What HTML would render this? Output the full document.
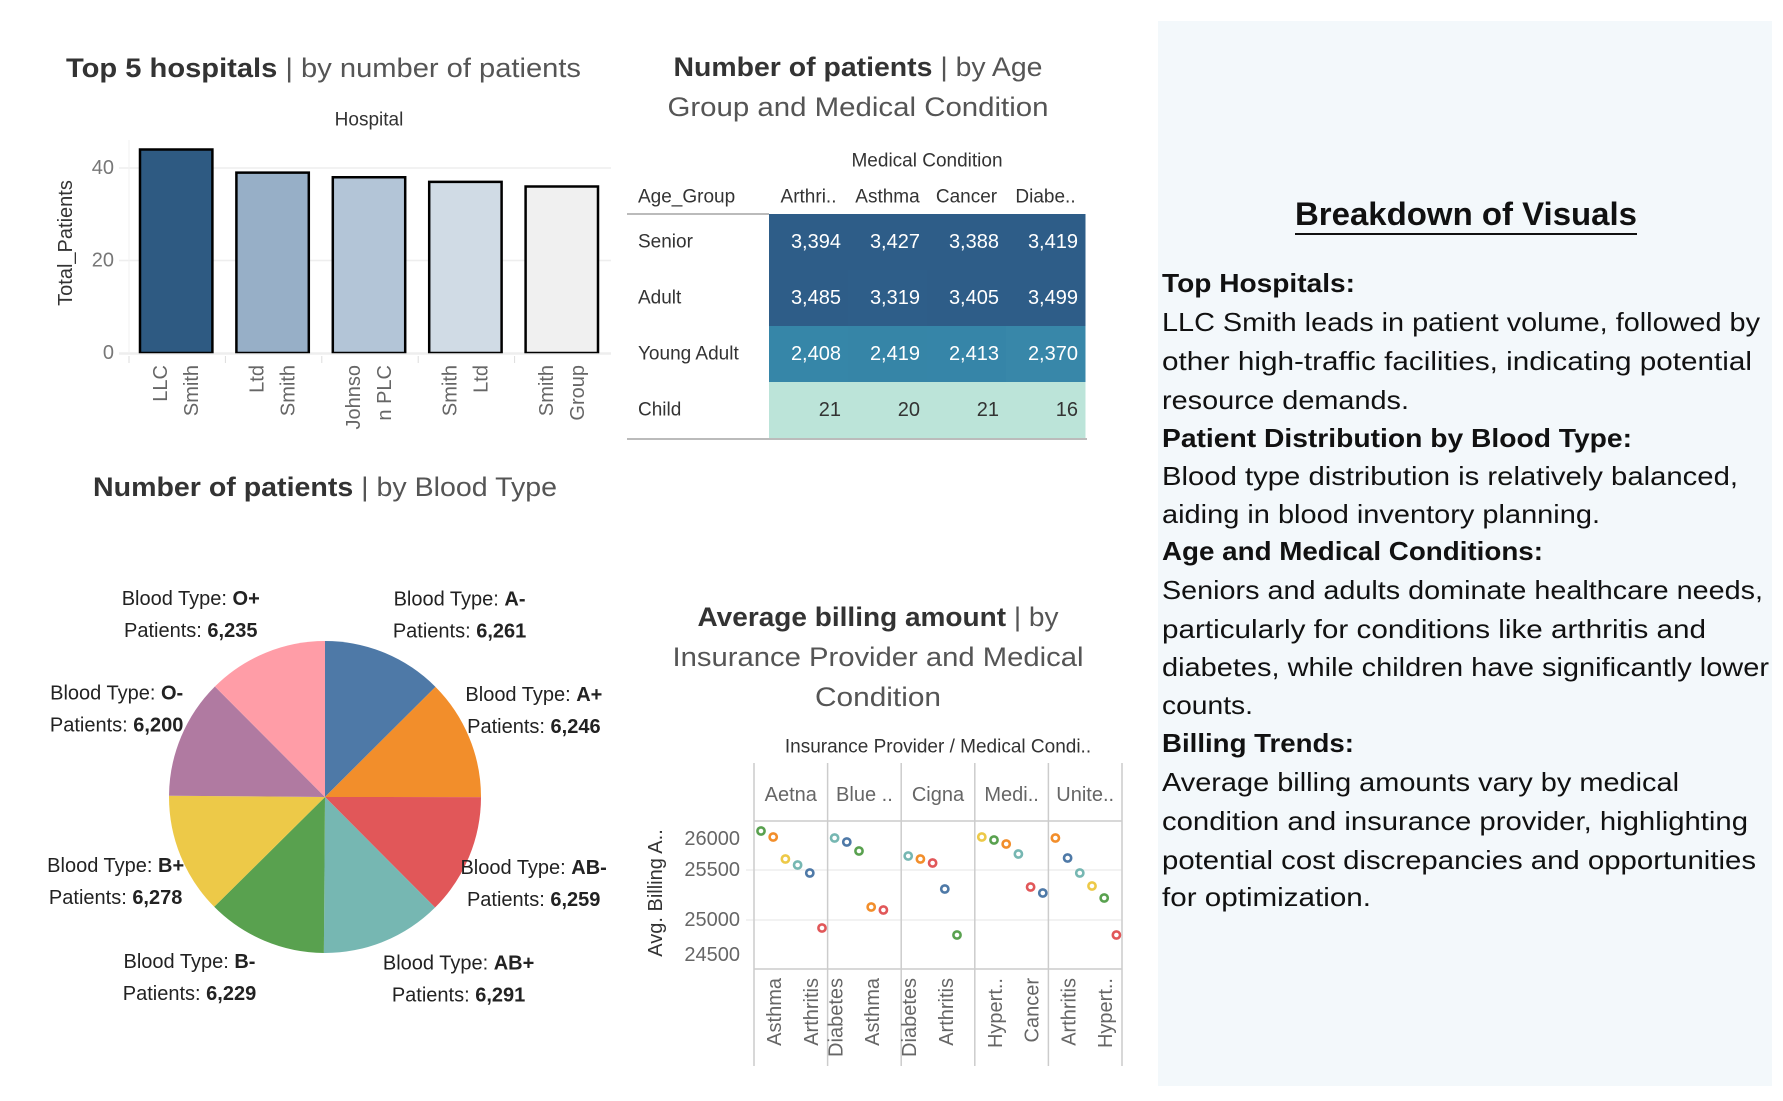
<!DOCTYPE html>
<html><head><meta charset="utf-8"><style>
html,body{margin:0;padding:0;background:#fff;}
svg{display:block;font-family:"Liberation Sans",sans-serif;}
</style></head><body>
<svg id="s" width="1783" height="1101" viewBox="0 0 1783 1101" xmlns="http://www.w3.org/2000/svg">
<rect x="1158" y="21" width="614" height="1065" fill="#f3f8fb"/>
<g font-size="26" fill="#111" dominant-baseline="central">
<text x="1466" y="214" text-anchor="middle" font-weight="bold" font-size="32" textLength="342" lengthAdjust="spacingAndGlyphs">Breakdown of Visuals</text>
<line x1="1295" y1="234" x2="1637" y2="234" stroke="#111" stroke-width="2"/>
<text x="1162" y="283" font-weight="bold" textLength="193" lengthAdjust="spacingAndGlyphs">Top Hospitals:</text>
<text x="1162" y="322" textLength="598" lengthAdjust="spacingAndGlyphs">LLC Smith leads in patient volume, followed by</text>
<text x="1162" y="361" textLength="590" lengthAdjust="spacingAndGlyphs">other high-traffic facilities, indicating potential</text>
<text x="1162" y="400" textLength="247" lengthAdjust="spacingAndGlyphs">resource demands.</text>
<text x="1162" y="438" font-weight="bold" textLength="470" lengthAdjust="spacingAndGlyphs">Patient Distribution by Blood Type:</text>
<text x="1162" y="476" textLength="576" lengthAdjust="spacingAndGlyphs">Blood type distribution is relatively balanced,</text>
<text x="1162" y="514" textLength="438" lengthAdjust="spacingAndGlyphs">aiding in blood inventory planning.</text>
<text x="1162" y="551" font-weight="bold" textLength="381" lengthAdjust="spacingAndGlyphs">Age and Medical Conditions:</text>
<text x="1162" y="590" textLength="601" lengthAdjust="spacingAndGlyphs">Seniors and adults dominate healthcare needs,</text>
<text x="1162" y="629" textLength="544" lengthAdjust="spacingAndGlyphs">particularly for conditions like arthritis and</text>
<text x="1162" y="667" textLength="607" lengthAdjust="spacingAndGlyphs">diabetes, while children have significantly lower</text>
<text x="1162" y="705" textLength="91" lengthAdjust="spacingAndGlyphs">counts.</text>
<text x="1162" y="743" font-weight="bold" textLength="192" lengthAdjust="spacingAndGlyphs">Billing Trends:</text>
<text x="1162" y="782" textLength="517" lengthAdjust="spacingAndGlyphs">Average billing amounts vary by medical</text>
<text x="1162" y="821" textLength="586" lengthAdjust="spacingAndGlyphs">condition and insurance provider, highlighting</text>
<text x="1162" y="860" textLength="594" lengthAdjust="spacingAndGlyphs">potential cost discrepancies and opportunities</text>
<text x="1162" y="897" textLength="209" lengthAdjust="spacingAndGlyphs">for optimization.</text>
</g>
<g dominant-baseline="central" font-size="27">
<text x="66" y="68" textLength="515" lengthAdjust="spacingAndGlyphs"><tspan fill="#333" font-weight="bold">Top 5 hospitals</tspan><tspan fill="#555"> | by number of patients</tspan></text>
<text x="858" y="67" text-anchor="middle" textLength="369" lengthAdjust="spacingAndGlyphs"><tspan fill="#333" font-weight="bold">Number of patients</tspan><tspan fill="#555"> | by Age</tspan></text>
<text x="858" y="107" text-anchor="middle" fill="#555" textLength="381" lengthAdjust="spacingAndGlyphs">Group and Medical Condition</text>
<text x="325" y="487" text-anchor="middle" textLength="464" lengthAdjust="spacingAndGlyphs"><tspan fill="#333" font-weight="bold">Number of patients</tspan><tspan fill="#555"> | by Blood Type</tspan></text>
<text x="878" y="617" text-anchor="middle" textLength="361" lengthAdjust="spacingAndGlyphs"><tspan fill="#333" font-weight="bold">Average billing amount</tspan><tspan fill="#555"> | by</tspan></text>
<text x="878" y="657" text-anchor="middle" fill="#555" textLength="411" lengthAdjust="spacingAndGlyphs">Insurance Provider and Medical</text>
<text x="878" y="697" text-anchor="middle" fill="#555" textLength="126" lengthAdjust="spacingAndGlyphs">Condition</text>
</g>
<g id="bar"></g>
<g id="heat"></g>
<g id="pie"></g>
<g id="sc"></g>
</svg>
<script>
// ---- bar chart data ----
const hospitals = [["LLC","Smith"],["Ltd","Smith"],["Johnso","n PLC"],["Smith","Ltd"],["Smith","Group"]];
const patientCounts = [44, 39, 38, 37, 36];
const barTicks = [0, 20, 40];
const barColors = ["#2e5a82","#97afc7","#b3c5d7","#d0dbe5","#f0f0f0"];
// ---- heatmap data ----
const ageGroups = ["Senior","Adult","Young Adult","Child"];
const conditions = ["Arthri..","Asthma","Cancer","Diabe.."];
const heatSenior = [3394, 3427, 3388, 3419];
const heatAdult = [3485, 3319, 3405, 3499];
const heatYoung = [2408, 2419, 2413, 2370];
const heatChild = [21, 20, 21, 16];
// ---- pie data ----
const bloodTypes = ["A-","A+","AB-","AB+","B-","B+","O-","O+"];
const bloodCounts = [6261, 6246, 6259, 6291, 6229, 6278, 6200, 6235];
const bloodColors = ["#4e79a7","#f28e2b","#e15759","#76b7b2","#59a14f","#edc948","#b07aa1","#ff9da7"];
// ---- dot chart data ----
const providers = ["Aetna","Blue ..","Cigna","Medi..","Unite.."];
const aetnaConds = ["Hypertension","Asthma","Obesity","Diabetes","Arthritis","Cancer"];
const aetnaVals = [25890, 25830, 25610, 25550, 25470, 24920];
const blueConds = ["Diabetes","Arthritis","Hypertension","Asthma","Cancer"];
const blueVals = [25820, 25780, 25690, 25130, 25100];
const cignaConds = ["Diabetes","Asthma","Cancer","Arthritis","Hypertension"];
const cignaVals = [25640, 25610, 25570, 25310, 24850];
const mediConds = ["Obesity","Hypertension","Asthma","Diabetes","Cancer","Arthritis"];
const mediVals = [25830, 25800, 25760, 25660, 25330, 25270];
const uniteConds = ["Asthma","Arthritis","Diabetes","Obesity","Hypertension","Cancer"];
const uniteVals = [25820, 25620, 25470, 25340, 25220, 24850];
const billingTicks = [26000, 25500, 25000, 24500];
const shownLabels = [[1,"Asthma",4,"Arthritis"],[0,"Diabetes",3,"Asthma"],[0,"Diabetes",3,"Arthritis"],[1,"Hypert..",4,"Cancer"],[1,"Arthritis",4,"Hypert.."]];
const condColors = {Arthritis:"#4e79a7",Asthma:"#f28e2b",Cancer:"#e15759",Diabetes:"#76b7b2",Hypertension:"#59a14f",Obesity:"#edc948"};

const NS="http://www.w3.org/2000/svg";
function mk(parent, tag, attrs, text){
  const e=document.createElementNS(NS,tag);
  for(const k in attrs) e.setAttribute(k, attrs[k]);
  if(text!==undefined) e.textContent=text;
  parent.appendChild(e); return e;
}

// ===== BAR CHART =====
(function(){
  const g=document.getElementById('bar');
  const x0=129, x1=611, y0=353, unit=92.5/20;
  const ys=v=>y0-v*unit;
  const band=(x1-x0)/hospitals.length;
  barTicks.forEach(t=>{
    const l=mk(g,'line',{x1:x0-10,x2:x1,y1:ys(t),y2:ys(t),stroke:'#eee','stroke-width':1.5});
    
    
    const tx=mk(g,'text',{x:114,y:ys(t),'text-anchor':'end','dominant-baseline':'central','font-size':20,fill:'#777'},String(t));
    
    
  });
  const ax=mk(g,'line',{x1:x0,x2:x0,y1:140,y2:y0,stroke:'#f2f2f2'});
  
  
  const t1=mk(g,'text',{x:369,y:120,'text-anchor':'middle','dominant-baseline':'central','font-size':19,fill:'#333'},'Hospital');
  
  
  const t2=mk(g,'text',{transform:'translate(66,243) rotate(-90)','text-anchor':'middle','dominant-baseline':'central','font-size':20,fill:'#333'},'Total_Patients');
  
  
  hospitals.forEach((h,i)=>{
    const bx=x0+band*i+11, bw=band-24;
    const r=mk(g,'rect',{x:bx,y:ys(patientCounts[i]),width:bw,height:y0-ys(patientCounts[i]),fill:barColors[i],stroke:'#000','stroke-width':2.5});
    
    
    const tk=mk(g,'line',{x1:x0+band*i,x2:x0+band*i,y1:y0+3,y2:y0+10,stroke:'#ddd'});
    
    
    h.forEach((ln,j)=>{
      const cx=bx+bw/2-15+j*31;
      const t=mk(g,'text',{transform:`translate(${cx},365) rotate(-90)`,'text-anchor':'end','dominant-baseline':'central','font-size':20,fill:'#666'},ln);
      
      
    });
  });
  const bl=mk(g,'line',{x1:x0-10,x2:x1,y1:y0+1,y2:y0+1,stroke:'#eee','stroke-width':1.5});
  
  
})();

// ===== HEATMAP =====
(function(){
  const g=document.getElementById('heat');
  const rows=[heatSenior,heatAdult,heatYoung,heatChild];
  const cx0=769, cw=79, cy0=214, ch=56;
  function col(v){
    const lerp=(a,b,t)=>a.map((c,k)=>Math.round(c+(b[k]-c)*t));
    const lo=[188,228,217], mid=[54,134,168], hi=[46,93,136];
    let c = v<2400 ? lerp(lo,mid,Math.max(0,(v-16)/(2400-16))) : lerp(mid,hi,Math.min(1,(v-2400)/(3350-2400)));
    return `rgb(${c[0]},${c[1]},${c[2]})`;
  }
  const mc=mk(g,'text',{x:cx0+2*cw,y:161,'text-anchor':'middle','dominant-baseline':'central','font-size':19,fill:'#333'},'Medical Condition');
  
  
  const ag=mk(g,'text',{x:638,y:197,'dominant-baseline':'central','font-size':19,fill:'#333'},'Age_Group');
  
  
  conditions.forEach((c,j)=>{
    const t=mk(g,'text',{x:cx0+cw*j+cw/2,y:197,'text-anchor':'middle','dominant-baseline':'central','font-size':19,fill:'#333'},c);
    
    
  });
  rows.forEach((r,i)=>{
    const lb=mk(g,'text',{x:638,y:cy0+ch*i+ch/2,'dominant-baseline':'central','font-size':19,fill:'#333'},ageGroups[i]);
    
    
    r.forEach((v,j)=>{
      const rc=mk(g,'rect',{x:cx0+cw*j,y:cy0+ch*i,width:cw+0.5,height:ch+0.5,fill:col(v)});
      
      
      const t=mk(g,'text',{x:cx0+cw*(j+1)-7,y:cy0+ch*i+ch/2,'text-anchor':'end','dominant-baseline':'central','font-size':20,fill:v<1000?'#333':'#fff'},v.toLocaleString('en-US'));
      
      
    });
  });
  const l1=mk(g,'line',{x1:627,x2:cx0,y1:cy0,y2:cy0,stroke:'#bbb','stroke-width':2});
  
  
  const l2=mk(g,'line',{x1:627,x2:cx0+4*cw+2,y1:cy0+4*ch+1,y2:cy0+4*ch+1,stroke:'#bbb','stroke-width':2});
  
  
})();

// ===== PIE =====
(function(){
  const g=document.getElementById('pie');
  const cx=325, cy=797, r=156, lr=226;
  const total=bloodCounts.reduce((a,b)=>a+b,0);
  let a=0;
  bloodCounts.forEach((v,i)=>{
    const a0=a, a1=a+v/total*2*Math.PI; a=a1;
    const p=t=>[cx+r*Math.sin(t), cy-r*Math.cos(t)];
    const [x0,y0]=p(a0),[x1,y1]=p(a1);
    const s=mk(g,'path',{d:`M${cx},${cy}L${x0},${y0}A${r},${r} 0 ${a1-a0>Math.PI?1:0} 1 ${x1},${y1}Z`,fill:bloodColors[i]});
    
    
    let m=(a0+a1)/2;
    if(Math.abs(Math.cos(m))>0.7){ m += (Math.sin(m)*Math.cos(m)>0?1:-1)*14*Math.PI/180; }
    const lx=cx+lr*Math.sin(m), ly=cy-lr*Math.cos(m);
    const t1=mk(g,'text',{x:lx,y:ly-16,'text-anchor':'middle','dominant-baseline':'central','font-size':20,fill:'#222'});
    
    
    mk(t1,'tspan',{},'Blood Type: ');
    mk(t1,'tspan',{'font-weight':'bold'},bloodTypes[i]);
    const t2=mk(g,'text',{x:lx,y:ly+16,'text-anchor':'middle','dominant-baseline':'central','font-size':20,fill:'#222'});
    
    
    mk(t2,'tspan',{},'Patients: ');
    mk(t2,'tspan',{'font-weight':'bold'},v.toLocaleString('en-US'));
  });
})();

// ===== DOT CHART =====
(function(){
  const g=document.getElementById('sc');
  const conds=[aetnaConds,blueConds,cignaConds,mediConds,uniteConds];
  const vals=[aetnaVals,blueVals,cignaVals,mediVals,uniteVals];
  const left=754, cw=73.6, top=763, hb=821, bot=969, lblBot=1066;
  const ys=v=>920-(v-25000)*0.1;
  const h=mk(g,'text',{x:938,y:747,'text-anchor':'middle','dominant-baseline':'central','font-size':19,fill:'#333'},'Insurance Provider  /  Medical Condi..');
  
  
  const yt=mk(g,'text',{transform:'translate(656,893) rotate(-90)','text-anchor':'middle','dominant-baseline':'central','font-size':20,fill:'#333'},'Avg. Billing A..');
  
  
  billingTicks.forEach(t=>{
    const y=ys(t);
    if(t===25500||t===25000){
      const gl=mk(g,'line',{x1:746,x2:left+5*cw,y1:y,y2:y,stroke:'#eee','stroke-width':1.5});
      
      
    }
    const ly=Math.min(Math.max(y,hb+18),bot-14);
    const tx=mk(g,'text',{x:740,y:ly,'text-anchor':'end','dominant-baseline':'central','font-size':20,fill:'#666'},String(t));
    
    
  });
  [hb,bot].forEach(y=>{
    const l=mk(g,'line',{x1:left,x2:left+5*cw,y1:y,y2:y,stroke:'#ccc','stroke-width':1.5});
    
    
  });
  for(let k=0;k<=5;k++){
    const l=mk(g,'line',{x1:left+k*cw,x2:left+k*cw,y1:top,y2:lblBot,stroke:'#ccc','stroke-width':1.5});
    
    
  }
  providers.forEach((p,i)=>{
    const cx0=left+i*cw;
    const pt=mk(g,'text',{x:cx0+cw/2,y:795,'text-anchor':'middle','dominant-baseline':'central','font-size':20,fill:'#666'},p);
    
    
    vals[i].forEach((v,j)=>{
      const c=mk(g,'circle',{cx:cx0+7+j*12.2,cy:ys(v),r:3.6,fill:'#fff',stroke:condColors[conds[i][j]],'stroke-width':2.6});
      
      
    });
    const sl=shownLabels[i];
    [[sl[0],sl[1]],[sl[2],sl[3]]].forEach(([j,txt])=>{
      const t=mk(g,'text',{transform:`translate(${cx0+9+j*12.2},978) rotate(-90)`,'text-anchor':'end','dominant-baseline':'central','font-size':20,fill:'#666'},txt);
      
      
    });
  });
})();
</script>
</body></html>
